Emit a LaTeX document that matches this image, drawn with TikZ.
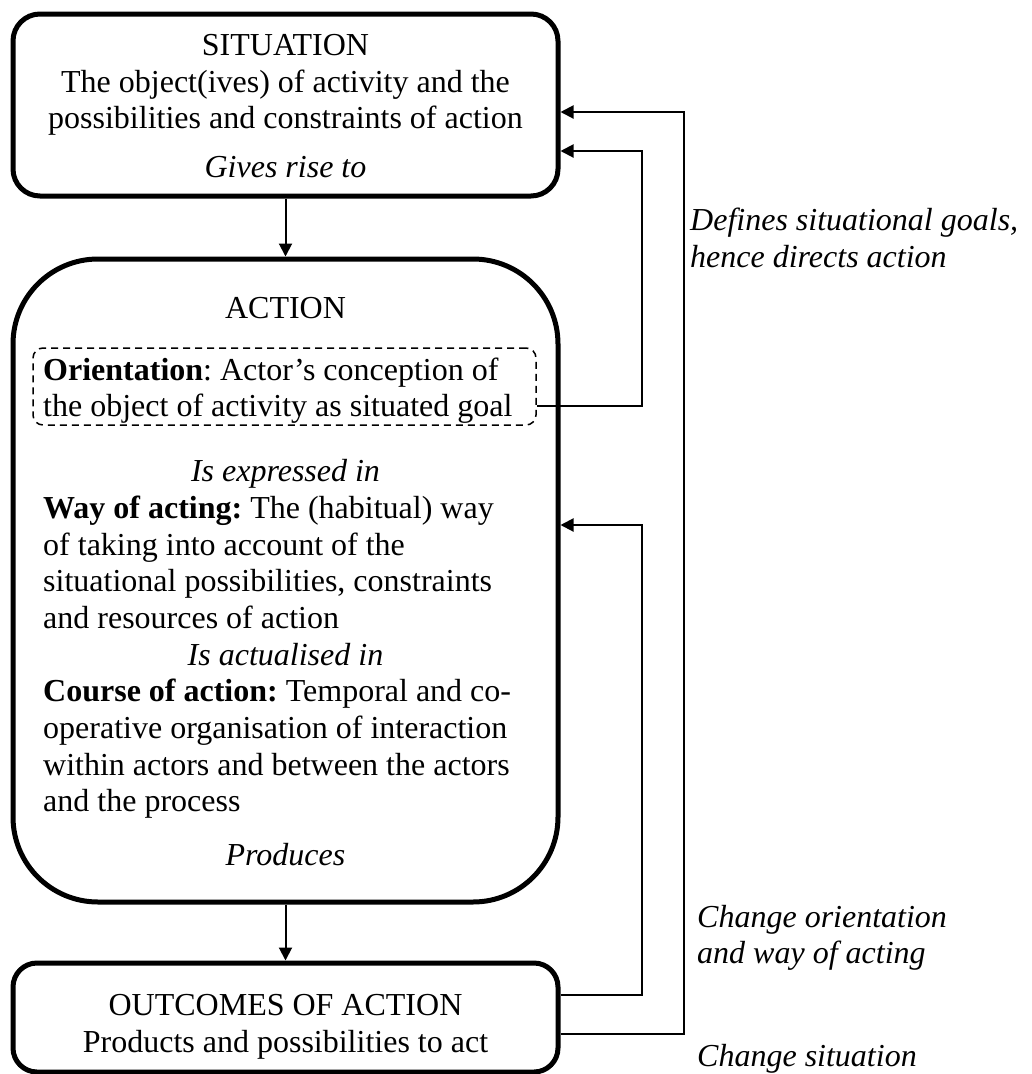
\documentclass[tikz,border=0pt]{standalone}
\usepackage{fontspec}
\setmainfont{Liberation Serif}
\usetikzlibrary{arrows.meta}
\frenchspacing
\begin{document}
\begin{tikzpicture}[x=1pt,y=-1pt,
  frame/.style={draw, line width=5pt, inner sep=0pt, minimum width=545pt},
  txt/.style={font=\fontsize{32}{37}\selectfont, inner sep=0pt, anchor=base},
  ltxt/.style={txt, anchor=base west},
  link/.style={line width=2pt, -{Triangle[length=13pt,width=13pt]}},
]
\useasboundingbox (0,0) rectangle (1032,1074);

% the three main boxes
\node[frame, rounded corners=27pt, minimum height=182pt] (sit) at (285.5,105) {};
\node[frame, rounded corners=85pt, minimum height=643pt] (act) at (285.5,580.5) {};
\node[frame, rounded corners=24pt, minimum height=109pt] (out) at (285.5,1017.5) {};
% dashed frame around the orientation paragraph
\node[draw, line width=1.5pt, dash pattern=on 7pt off 5pt, rounded corners=10pt,
      inner sep=0pt, minimum width=503pt, minimum height=77pt] (ori) at (284.5,386.5) {};

% situation
\node[txt] (sitA) at (285.5,55) {SITUATION};
\node[txt] (sitB) at (285.5,92) {The object(ives) of activity and the};
\node[txt] (sitC) at (285.5,128) {possibilities and constraints of action};
\node[txt] (sitD) at (285.5,177) {\textit{Gives rise to}};

% action
\node[txt] (actA) at (285.5,318) {ACTION};
\node[ltxt] (oriA) at (43,380) {\textbf{Orientation}: Actor’s conception of};
\node[ltxt] (oriB) at (43,416) {the object of activity as situated goal};
\node[txt] (actB) at (285.5,481) {\textit{Is expressed in}};
\node[ltxt] (wayA) at (43,518) {\textbf{Way of acting:} The (habitual) way};
\node[ltxt] (wayB) at (43,555) {of taking into account of the};
\node[ltxt] (wayC) at (43,591) {situational possibilities, constraints};
\node[ltxt] (wayD) at (43,628) {and resources of action};
\node[txt] (actC) at (285.5,665) {\textit{Is actualised in}};
\node[ltxt] (crsA) at (43,701) {\textbf{Course of action:} Temporal and co-};
\node[ltxt] (crsB) at (43,738) {operative organisation of interaction};
\node[ltxt] (crsC) at (43,775) {within actors and between the actors};
\node[ltxt] (crsD) at (43,811) {and the process};
\node[txt] (actD) at (285.5,865) {\textit{Produces}};

% outcomes
\node[txt] (outA) at (285.5,1015) {OUTCOMES OF ACTION};
\node[txt] (outB) at (285.5,1052) {Products and possibilities to act};

% feedback labels
\node[ltxt] (lblA) at (690,230) {\textit{Defines situational goals,}};
\node[ltxt] (lblB) at (690,267) {\textit{hence directs action}};
\node[ltxt] (lblC) at (697,927) {\textit{Change orientation}};
\node[ltxt] (lblD) at (697,963) {\textit{and way of acting}};
\node[ltxt] (lblE) at (697,1066) {\textit{Change situation}};

% bends of the feedback loops
\coordinate (ka) at (642,406);
\coordinate (kb) at (642,151);
\coordinate (kc) at (642,995);
\coordinate (kd) at (642,525);
\coordinate (ke) at (684,1034);
\coordinate (kf) at (684,112);

% connectors
\draw[link] (sit.south) -- (act.north);
\draw[link] (act.south) -- (out.north);
\draw[link] (ori.east |- ka) -- (ka) -- (kb) -- (sit.east |- kb);
\draw[link] (out.east |- kc) -- (kc) -- (kd) -- (act.east |- kd);
\draw[link] (out.east |- ke) -- (ke) -- (kf) -- (sit.east |- kf);
\end{tikzpicture}
\end{document}
